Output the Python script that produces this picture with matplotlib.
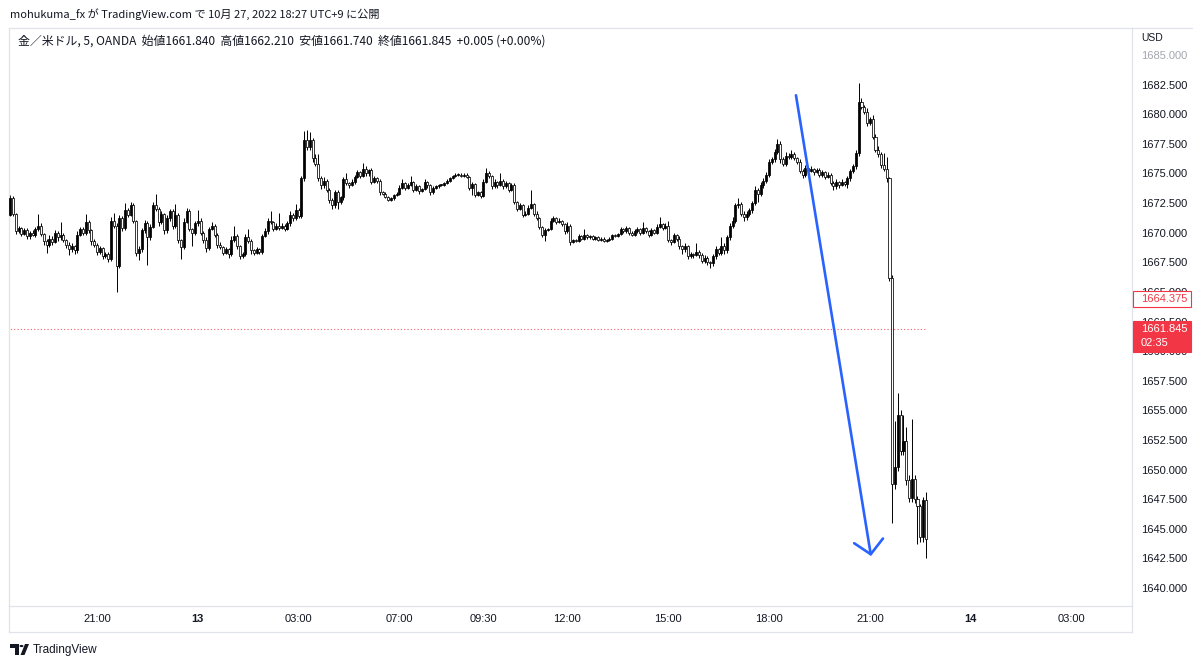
"""TradingView style 5-minute candle chart: gold / USD (OANDA), Oct 12-13."""
import matplotlib

matplotlib.use("Agg")

import matplotlib.pyplot as plt  # noqa: E402
import numpy as np  # noqa: E402
from matplotlib.lines import Line2D  # noqa: E402
from matplotlib.patches import Circle, Polygon, Rectangle  # noqa: E402
from matplotlib.transforms import IdentityTransform  # noqa: E402

# ---- data (5-minute bars) ----
first_open = 1671.5
closes = [
    1672.9, 1671.6, 1670.1, 1670.4, 1669.9, 1670.2, 1669.7, 1670.0, 1669.8, 1670.3,
    1670.6, 1669.9, 1669.3, 1669.0, 1669.5, 1669.2, 1670.0, 1669.6, 1669.8, 1669.4,
    1669.0, 1668.6, 1668.9, 1668.5, 1669.8, 1670.3, 1670.0, 1670.9, 1670.2, 1669.3,
    1669.0, 1668.4, 1668.7, 1668.0, 1668.2, 1667.8, 1671.0, 1670.6, 1667.2, 1671.2,
    1670.4, 1671.9, 1671.5, 1672.3, 1671.0, 1668.3, 1668.6, 1670.2, 1670.8, 1669.6,
    1670.5, 1672.3, 1672.0, 1670.9, 1671.6, 1670.2, 1671.2, 1671.8, 1670.6, 1671.5,
    1669.4, 1668.8, 1670.9, 1671.8, 1670.3, 1670.0, 1670.8, 1671.0, 1670.0, 1669.4,
    1668.7, 1670.3, 1670.6, 1669.8, 1669.0, 1668.8, 1668.3, 1668.6, 1668.2, 1669.4,
    1669.7, 1668.9, 1668.0, 1668.2, 1669.6, 1669.3, 1668.5, 1668.3, 1668.6, 1668.4,
    1669.7, 1670.1, 1671.0, 1670.9, 1670.3, 1670.6, 1670.4, 1670.6, 1670.3, 1670.8,
    1671.5, 1671.2, 1671.9, 1671.4, 1674.6, 1677.8, 1677.2, 1677.8, 1676.3, 1675.8,
    1674.6, 1674.0, 1674.4, 1673.6, 1672.8, 1672.3, 1673.4, 1672.6, 1673.0, 1674.5,
    1674.2, 1674.0, 1674.3, 1674.7, 1675.1, 1674.8, 1675.4, 1675.0, 1675.3, 1674.3,
    1674.6, 1674.4, 1673.4, 1673.3, 1673.0, 1672.8, 1672.9, 1673.2, 1673.3, 1673.8,
    1674.2, 1673.8, 1674.0, 1674.3, 1673.6, 1673.9, 1673.5, 1673.7, 1674.3, 1674.0,
    1673.4, 1673.8, 1673.9, 1674.0, 1674.0, 1674.2, 1674.4, 1674.6, 1674.8, 1674.9,
    1674.9, 1674.8, 1674.9, 1674.7, 1673.8, 1674.1, 1673.2, 1673.4, 1673.1, 1674.3,
    1675.0, 1674.8, 1673.9, 1674.3, 1674.0, 1674.4, 1673.9, 1674.2, 1673.6, 1674.0,
    1672.6, 1672.0, 1672.3, 1671.5, 1671.6, 1672.1, 1672.4, 1671.6, 1671.2, 1670.5,
    1669.8, 1670.2, 1670.3, 1671.0, 1671.2, 1670.9, 1671.0, 1670.7, 1670.1, 1670.6,
    1669.2, 1669.4, 1669.3, 1669.7, 1669.5, 1669.8, 1669.6, 1669.7, 1669.5, 1669.6,
    1669.4, 1669.5, 1669.3, 1669.4, 1669.5, 1669.8, 1669.7, 1669.9, 1670.3, 1670.1,
    1670.4, 1670.0, 1669.8, 1670.1, 1670.3, 1670.0, 1670.4, 1670.1, 1669.8, 1670.2,
    1670.0, 1670.5, 1670.7, 1670.4, 1670.6, 1669.4, 1669.2, 1669.8, 1669.5, 1668.9,
    1668.6, 1668.9, 1668.0, 1668.2, 1668.1, 1668.4, 1668.1, 1667.6, 1667.9, 1667.5,
    1667.4, 1668.0, 1668.6, 1668.3, 1668.9, 1668.5, 1669.6, 1670.6, 1671.0, 1672.3,
    1672.4, 1671.6, 1671.3, 1671.6, 1671.9, 1672.5, 1673.6, 1673.3, 1674.0, 1674.4,
    1674.9, 1676.0, 1676.2, 1676.8, 1677.5, 1676.2, 1675.8, 1676.5, 1676.4, 1676.6,
    1676.3, 1676.0, 1675.2, 1674.9, 1675.5, 1675.2, 1675.4, 1675.1, 1675.3, 1674.9,
    1675.1, 1674.7, 1674.9, 1674.2, 1673.9, 1674.3, 1674.0, 1674.3, 1674.1, 1674.6,
    1675.2, 1675.6, 1676.7, 1681.0, 1680.6, 1680.2, 1679.3, 1679.6, 1678.1, 1677.0,
    1676.6, 1675.7, 1675.4, 1674.6, 1666.2, 1648.8, 1650.2, 1654.6, 1651.6, 1652.4,
    1649.1, 1647.6, 1649.2, 1647.5, 1646.9, 1644.3, 1647.4, 1644.1,
]
# wick length above / below each body
wick_hi = [
    0.3, 0.2, 0.1, 0.2, 0.1, 0.2, 0.2, 0.1, 0.2, 0.2,
    1.0, 0.2, 0.1, 0.2, 0.3, 0.2, 0.2, 0.1, 1.1, 0.2,
    0.1, 0.2, 0.2, 0.1, 0.3, 0.2, 0.2, 0.7, 0.2, 0.1,
    0.2, 0.1, 0.2, 0.1, 0.2, 0.2, 0.3, 0.7, 0.2, 0.3,
    0.2, 0.6, 0.2, 0.3, 0.2, 0.1, 0.3, 0.2, 0.3, 0.2,
    0.2, 0.3, 1.0, 0.2, 0.2, 0.1, 0.3, 0.2, 0.2, 0.9,
    0.2, 0.1, 0.3, 0.3, 0.2, 0.1, 0.2, 0.9, 0.2, 0.1,
    0.2, 0.2, 0.3, 0.1, 0.2, 0.2, 0.1, 0.2, 0.1, 0.3,
    0.9, 0.2, 0.1, 0.2, 0.3, 0.7, 0.2, 0.1, 0.2, 0.1,
    0.2, 0.3, 0.2, 0.8, 0.1, 0.2, 1.1, 0.2, 0.1, 0.2,
    0.3, 0.2, 0.5, 0.2, 0.2, 0.8, 0.9, 0.7, 0.2, 0.3,
    0.8, 0.2, 0.3, 0.1, 0.2, 0.1, 0.2, 0.2, 0.1, 0.2,
    0.5, 0.1, 0.2, 0.2, 0.2, 0.1, 0.5, 0.2, 0.1, 0.2,
    0.2, 0.1, 0.1, 0.1, 0.1, 0.1, 0.1, 0.1, 0.1, 0.2,
    0.3, 0.1, 0.2, 0.5, 0.1, 0.2, 0.1, 0.1, 0.2, 0.1,
    0.1, 0.1, 0.1, 0.1, 0.1, 0.1, 0.1, 0.1, 0.1, 0.1,
    0.1, 0.1, 0.1, 0.1, 0.1, 0.2, 0.1, 0.1, 0.1, 0.2,
    0.5, 0.2, 0.1, 0.2, 0.1, 0.6, 0.1, 0.2, 0.1, 0.2,
    0.2, 0.1, 0.2, 0.1, 0.2, 0.2, 1.2, 0.1, 0.2, 0.1,
    0.1, 0.2, 0.1, 0.2, 0.2, 0.1, 0.2, 0.1, 0.1, 0.3,
    0.1, 0.1, 0.1, 0.2, 0.1, 0.5, 0.1, 0.1, 0.1, 0.1,
    0.1, 0.1, 0.1, 0.1, 0.1, 0.1, 0.1, 0.1, 0.2, 0.1,
    0.2, 0.1, 0.1, 0.2, 0.2, 0.1, 0.5, 0.1, 0.1, 0.2,
    0.1, 0.2, 0.6, 0.1, 0.2, 0.4, 0.1, 0.2, 0.1, 0.2,
    0.1, 0.2, 0.1, 0.2, 0.1, 0.7, 0.1, 0.2, 0.2, 0.1,
    0.1, 0.2, 0.3, 0.1, 0.7, 0.2, 0.2, 0.2, 0.3, 0.2,
    0.5, 0.2, 0.2, 0.2, 0.2, 0.2, 0.3, 0.2, 0.3, 0.2,
    0.2, 0.2, 0.2, 0.3, 0.4, 0.2, 0.2, 0.3, 0.2, 0.4,
    0.2, 0.1, 0.2, 0.2, 0.2, 0.1, 0.2, 0.1, 0.2, 0.2,
    0.2, 0.1, 0.2, 0.1, 0.2, 0.2, 0.1, 0.2, 0.1, 0.2,
    0.2, 0.2, 0.3, 1.6, 0.4, 0.2, 0.3, 0.2, 0.3, 0.2,
    0.3, 0.2, 1.0, 1.0, 0.1, 0.2, 3.9, 1.9, 0.4, 2.2,
    1.2, 0.4, 5.1, 0.3, 0.3, 0.2, 0.3, 0.7,
]
wick_lo = [
    0.1, 0.2, 0.2, 0.1, 0.2, 0.1, 0.2, 0.2, 0.1, 0.2,
    0.2, 0.2, 0.3, 0.7, 0.2, 0.2, 0.1, 0.3, 0.2, 0.2,
    0.3, 0.5, 0.2, 0.3, 0.2, 0.1, 0.2, 0.2, 0.2, 0.3,
    0.2, 0.3, 0.2, 0.2, 0.1, 0.3, 0.2, 0.2, 2.2, 0.2,
    0.3, 0.2, 0.2, 0.1, 0.2, 0.3, 0.6, 0.2, 0.2, 2.3,
    0.2, 0.1, 0.2, 0.3, 0.2, 0.3, 0.2, 0.2, 0.3, 0.2,
    0.3, 1.0, 0.2, 0.1, 0.2, 1.1, 0.2, 0.2, 0.2, 0.3,
    0.3, 0.2, 0.1, 0.2, 0.3, 0.2, 0.2, 0.1, 0.3, 0.2,
    0.2, 0.3, 0.2, 0.1, 0.2, 0.2, 0.3, 0.2, 0.1, 0.2,
    0.2, 0.1, 0.2, 0.2, 0.2, 0.1, 0.2, 0.1, 0.2, 0.1,
    0.2, 0.2, 0.1, 0.2, 0.2, 0.2, 0.2, 0.2, 0.3, 0.2,
    0.2, 0.3, 0.2, 0.2, 0.3, 0.3, 0.2, 0.6, 0.2, 0.2,
    0.2, 0.2, 0.1, 0.2, 0.1, 0.2, 0.1, 0.2, 0.2, 0.2,
    0.1, 0.2, 0.2, 0.1, 0.1, 0.1, 0.1, 0.1, 0.1, 0.1,
    0.1, 0.2, 0.1, 0.1, 0.2, 0.1, 0.2, 0.1, 0.1, 0.2,
    0.2, 0.1, 0.1, 0.1, 0.1, 0.1, 0.1, 0.1, 0.1, 0.1,
    0.1, 0.1, 0.1, 0.1, 0.2, 0.6, 0.2, 0.1, 0.2, 0.1,
    0.1, 0.2, 0.2, 0.1, 0.2, 0.1, 0.2, 0.1, 0.2, 0.1,
    0.2, 0.2, 0.1, 0.2, 0.1, 0.1, 0.1, 0.2, 0.1, 0.2,
    0.2, 0.5, 0.1, 0.1, 0.1, 0.2, 0.1, 0.1, 0.2, 0.1,
    0.2, 0.1, 0.1, 0.1, 0.1, 0.1, 0.1, 0.1, 0.1, 0.1,
    0.1, 0.1, 0.1, 0.1, 0.1, 0.1, 0.1, 0.1, 0.1, 0.1,
    0.1, 0.2, 0.1, 0.1, 0.1, 0.2, 0.1, 0.1, 0.2, 0.1,
    0.1, 0.1, 0.1, 0.2, 0.1, 0.2, 0.2, 0.1, 0.2, 0.3,
    0.4, 0.2, 0.2, 0.1, 0.2, 0.1, 0.2, 0.2, 0.2, 0.2,
    0.4, 0.2, 0.2, 0.2, 0.2, 0.3, 0.2, 0.2, 0.2, 0.2,
    0.2, 0.2, 0.3, 0.2, 0.2, 0.2, 0.2, 0.7, 0.2, 0.2,
    0.2, 0.2, 0.2, 0.2, 0.2, 0.3, 0.2, 0.2, 0.2, 0.2,
    0.2, 0.2, 0.2, 0.3, 0.2, 0.2, 0.1, 0.2, 0.1, 0.2,
    0.2, 0.2, 0.1, 0.2, 0.3, 0.2, 0.2, 0.1, 0.2, 0.3,
    0.2, 0.2, 0.2, 0.2, 0.2, 0.2, 0.3, 0.2, 0.2, 0.2,
    0.2, 0.2, 0.2, 0.3, 0.3, 3.3, 0.4, 0.3, 0.4, 0.4,
    0.4, 0.3, 0.3, 0.3, 3.2, 0.4, 0.4, 1.6,
]

# bar index of each time label (06:00-07:00 is the daily break)
time_ticks = [31, 67, 103, 139, 169, 199, 235, 271, 307, 343, 379]
time_labels = ["21:00", "13", "03:00", "07:00", "09:30", "12:00",
               "15:00", "18:00", "21:00", "14", "03:00"]
day_labels = {"13", "14"}
price_ticks = [1640.0, 1642.5, 1645.0, 1647.5, 1650.0, 1652.5, 1655.0, 1657.5,
               1660.0, 1662.5, 1665.0, 1667.5, 1670.0, 1672.5, 1675.0, 1677.5,
               1680.0, 1682.5, 1685.0]
last_price = 1661.845
marker_price = 1664.375
countdown = "02:35"
# hand-drawn arrow (bar index, price)
arrow_start = (280.6, 1681.6)
arrow_end = (307.4, 1642.7)

header = "mohukuma_fx が TradingView.com で 10月 27, 2022 18:27 UTC+9 に公開"
legend = ("金／米ドル, 5, OANDA  始値1661.840  高値1662.210  安値1661.740  "
          "終値1661.845  +0.005 (+0.00%)")

TEXT = "#131722"
BORDER = "#e0e3eb"
RED = "#f23645"
BLUE = "#2962ff"
CJK = ["Noto Sans CJK JP", "DejaVu Sans"]
LATIN = ["Liberation Sans", "DejaVu Sans"]

W, H = 1193, 657


def fx(px):
    return px / W


def fy(py):
    return 1 - py / H


fig = plt.figure(figsize=(W / 100, H / 100), dpi=100)
fig.patch.set_facecolor("white")
ax = fig.add_axes([fx(9), fy(606), (1132 - 9) / W, (606 - 28) / H])

# ---- candles: rising bars solid black, falling bars hollow ----
opens = np.array([first_open] + closes[:-1])
c = np.array(closes)
x = np.arange(len(c))
top = np.maximum(opens, c)
bot = np.minimum(opens, c)
hi = top + np.array(wick_hi)
lo = bot - np.array(wick_lo)
up = c >= opens

ax.vlines(x, lo, hi, color="black", lw=0.7, zorder=2)
ax.bar(x, np.maximum(top - bot, 0.08), bottom=bot, width=0.72,
       color=["black" if u else "white" for u in up],
       edgecolor="black", linewidth=0.55, zorder=3)

# last price dotted line
ax.hlines(last_price, -1, x[-1] + 0.5, color=RED, lw=0.8,
          linestyle=(0, (1, 2)), alpha=0.8, zorder=1)

# hand-drawn arrow
ax.annotate("", xy=arrow_end, xytext=arrow_start,
            arrowprops=dict(arrowstyle="->,head_length=0.65,head_width=0.7",
                            color=BLUE, lw=1.9, shrinkA=0, shrinkB=0,
                            mutation_scale=15),
            zorder=4)

ax.set_xlim(-0.43, 400.6)
ax.set_ylim(1638.48, 1687.28)

# ---- axes ----
ax.yaxis.tick_right()
ax.set_yticks(price_ticks)
ax.set_yticklabels([f"{p:.3f}" for p in price_ticks], family=LATIN)
ax.tick_params(axis="y", length=0, pad=6.5, labelsize=8, labelcolor=TEXT)
ax.get_yticklabels()[-1].set_color("#a3a6af")

ax.set_xticks(time_ticks)
ax.set_xticklabels(time_labels, family=LATIN)
ax.tick_params(axis="x", length=0, pad=6, labelsize=8, labelcolor=TEXT)
for lab in ax.get_xticklabels():
    if lab.get_text() in day_labels:
        lab.set_fontweight("bold")

for sp in ax.spines.values():
    sp.set_color(BORDER)
    sp.set_linewidth(0.9)


def hline(y, x0, x1):
    fig.add_artist(Line2D([fx(x0), fx(x1)], [fy(y), fy(y)], color=BORDER, lw=0.9))


def vline(xp, y0, y1):
    fig.add_artist(Line2D([fx(xp), fx(xp)], [fy(y0), fy(y1)], color=BORDER, lw=0.9))


hline(28, 1132, 1193)
hline(632, 9, 1132)
vline(9, 606, 632)
vline(1132, 606, 632)

fig.text(fx(1141), fy(38), "USD", fontsize=7.5, color=TEXT, va="center",
         family=LATIN)

# ---- price scale labels for the marker and the last price ----
fig.canvas.draw()
ident = IdentityTransform()
y_mark = ax.transData.transform((0, marker_price))[1]
fig.add_artist(Rectangle((1133, y_mark - 8), 58, 16, transform=ident,
                         facecolor="white", edgecolor=RED, lw=0.8, zorder=5))
fig.text(1141, y_mark, f"{marker_price:.3f}", transform=ident, fontsize=8,
         color=RED, va="center", family=LATIN, zorder=6)

y_last = ax.transData.transform((0, last_price))[1]
fig.add_artist(Rectangle((1133, y_last - 23), 58, 31, transform=ident,
                         facecolor=RED, edgecolor=RED, lw=0.8, zorder=5))
fig.text(1141, y_last, f"{last_price:.3f}", transform=ident, fontsize=8,
         color="white", va="center", family=LATIN, zorder=6)
fig.text(1141, y_last - 14, countdown, transform=ident, fontsize=8,
         color="white", va="center", family=LATIN, zorder=6)

# ---- header texts ----
fig.text(fx(10), fy(14), header, fontsize=8, color=TEXT, va="center", family=CJK)
fig.text(fx(18), fy(41), legend, fontsize=8.6, color=TEXT, va="center",
         family=CJK)


# ---- TradingView logo ----
def px_poly(pts, **kw):
    fig.add_artist(Polygon([(fx(a), fy(b)) for a, b in pts], closed=True, **kw))


px_poly([(10, 644), (19, 644), (19, 655), (15, 655), (15, 648), (10, 648)],
        facecolor=TEXT, edgecolor="none")
fig.add_artist(Circle((fx(21.5), fy(646)), 2.0 / W, facecolor=TEXT,
                      edgecolor="none"))
px_poly([(25, 644), (29, 644), (24.5, 655), (20.5, 655)],
        facecolor=TEXT, edgecolor="none")
fig.text(fx(33), fy(649.5), "TradingView", fontsize=8.5, color=TEXT,
         va="center", family=LATIN)

fig.savefig("out.png", dpi=100)
plt.close(fig)
